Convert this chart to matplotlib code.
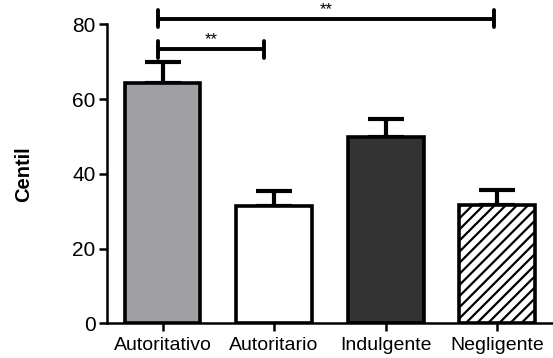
import numpy as np
import matplotlib
matplotlib.use("Agg")
import matplotlib.pyplot as plt

plt.rcParams['font.family'] = ['Liberation Sans', 'DejaVu Sans']
plt.rcParams['hatch.linewidth'] = 1.6

# data
# -------------------------------------------------------------------------------------
categories = ["Autoritativo", "Autoritario", "Indulgente", "Negligente"]
means = [64.3, 31.4, 49.8, 31.6]
sem = [5.5, 4.0, 5.0, 4.0]
colors = ["#a0a0a4", "#ffffff", "#333333", "#ffffff"]
hatches = ["", "", "", "///"]

# significance brackets: (from bar, to bar, height, label)
brackets = [(0, 1, 73.3, "**"), (0, 3, 81.5, "**")]

# figure
# -------------------------------------------------------------------------------------
fig = plt.figure(figsize=(5.53, 3.58), dpi=100)
ax = fig.add_axes([0.193, 0.097, 0.807, 0.835])

x = np.arange(len(categories))
for xi, m, c, h in zip(x, means, colors, hatches):
    ax.bar(xi, m, width=0.68, color=c, edgecolor="black", linewidth=2.6,
           hatch=h, zorder=2)

ax.errorbar(x, means, yerr=[np.zeros(len(sem)), sem], fmt="none", ecolor="black",
            elinewidth=3, capsize=13, capthick=3, zorder=1)

ends = {1: -0.09, 3: -0.03}
for a, b, h, lab in brackets:
    xa, xb = x[a] - 0.04, x[b] + ends[b]
    ax.plot([xa, xb], [h, h], color="black", lw=2.8, clip_on=False,
            solid_capstyle="butt")
    for xe in (xa, xb):
        ax.plot([xe, xe], [h - 2.3, h + 2.3], color="black", lw=2.8,
                clip_on=False, solid_capstyle="round")
    ax.text((xa + xb) / 2, h + 0.5, lab, ha="center", va="bottom",
            fontsize=12, clip_on=False)

ax.set_xlim(-0.5, 3.5)
ax.set_ylim(0, 80)
ax.set_yticks([0, 20, 40, 60, 80])
ax.set_xticks(x)
ax.set_xticklabels(categories)

for s in ["top", "right"]:
    ax.spines[s].set_visible(False)
for s in ["left", "bottom"]:
    ax.spines[s].set_linewidth(1.8)

ax.tick_params(axis="y", labelsize=15, width=1.8, length=6, pad=2)
ax.tick_params(axis="x", labelsize=14, width=1.8, length=6, pad=4)

ax.set_ylabel("Centil", fontsize=14.5, fontweight="bold")
ax.yaxis.set_label_coords(-0.165, 0.5)

fig.savefig("out.png", dpi=100)
